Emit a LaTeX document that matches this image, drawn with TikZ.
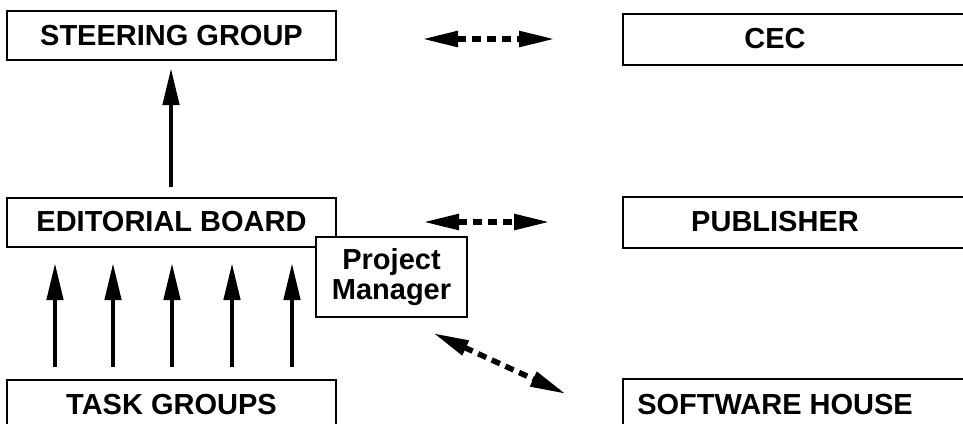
\documentclass[tikz,border=0pt]{standalone}
\usepackage{fontspec}
\setmainfont{Liberation Sans}
\usetikzlibrary{arrows.meta}

\tikzset{
  box/.style={draw,line width=2pt,minimum width=329pt,minimum height=49pt,inner sep=0pt,
    font=\bfseries\fontsize{29}{30}\selectfont},
  farbox/.style={box,draw=none,minimum width=302pt},
  frame/.style={line width=2pt},
  uparrow/.style={line width=4.5pt,-{Triangle[length=37pt,width=16pt]}},
  linkarrow/.style={line width=5.5pt,dash pattern=on 9pt off 6pt,
    {Triangle[length=36pt,width=15pt]}-{Triangle[length=36pt,width=15pt]}}
}

\begin{document}
\begin{tikzpicture}[x=1pt,y=-1pt]
\path[use as bounding box,clip] (0,0) rectangle (963,423);

% left column
\node[box] (steer) at (171.5,35.5) {STEERING GROUP};
\node[box] (board) at (171.5,222) {EDITORIAL BOARD};
\node[box,minimum height=50pt] (task) at (171.5,405) {TASK GROUPS};
\node[box,minimum width=151pt,minimum height=80pt,align=center,fill=white] (pm) at (391.5,277) {Project\\Manager};

% right column (boxes run off the page)
\node[farbox] (cec) at (775,39) {CEC};
\node[farbox] (pub) at (775,222) {PUBLISHER};
\node[farbox,minimum height=50pt] (soft) at (775,405) {SOFTWARE HOUSE};
\foreach \n in {cec,pub,soft}
  \draw[frame] ([xshift=80pt]\n.north east) -- (\n.north west) -- (\n.south west) -- ([xshift=80pt]\n.south east);

% board reports to steering group
\coordinate (b1) at (171,187);
\coordinate (s1) at (171,68);
\draw[uparrow] (b1) -- (s1);

% task groups feed the board
\foreach \x [count=\i] in {55,113,172,232,292}{
  \coordinate (tg\i) at (\x,367);
  \coordinate (eb\i) at (\x,263);
  \draw[uparrow] (tg\i) -- (eb\i);
}

% links to the outside partners
\coordinate (l1) at (422,39);
\coordinate (r1) at (555,39);
\draw[linkarrow] (l1) -- (r1);
\coordinate (l2) at (423,222);
\coordinate (r2) at (550,222);
\draw[linkarrow] (l2) -- (r2);
\coordinate (l3) at (433,333);
\coordinate (r3) at (566,394);
\draw[linkarrow] (l3) -- (r3);
\end{tikzpicture}
\end{document}
